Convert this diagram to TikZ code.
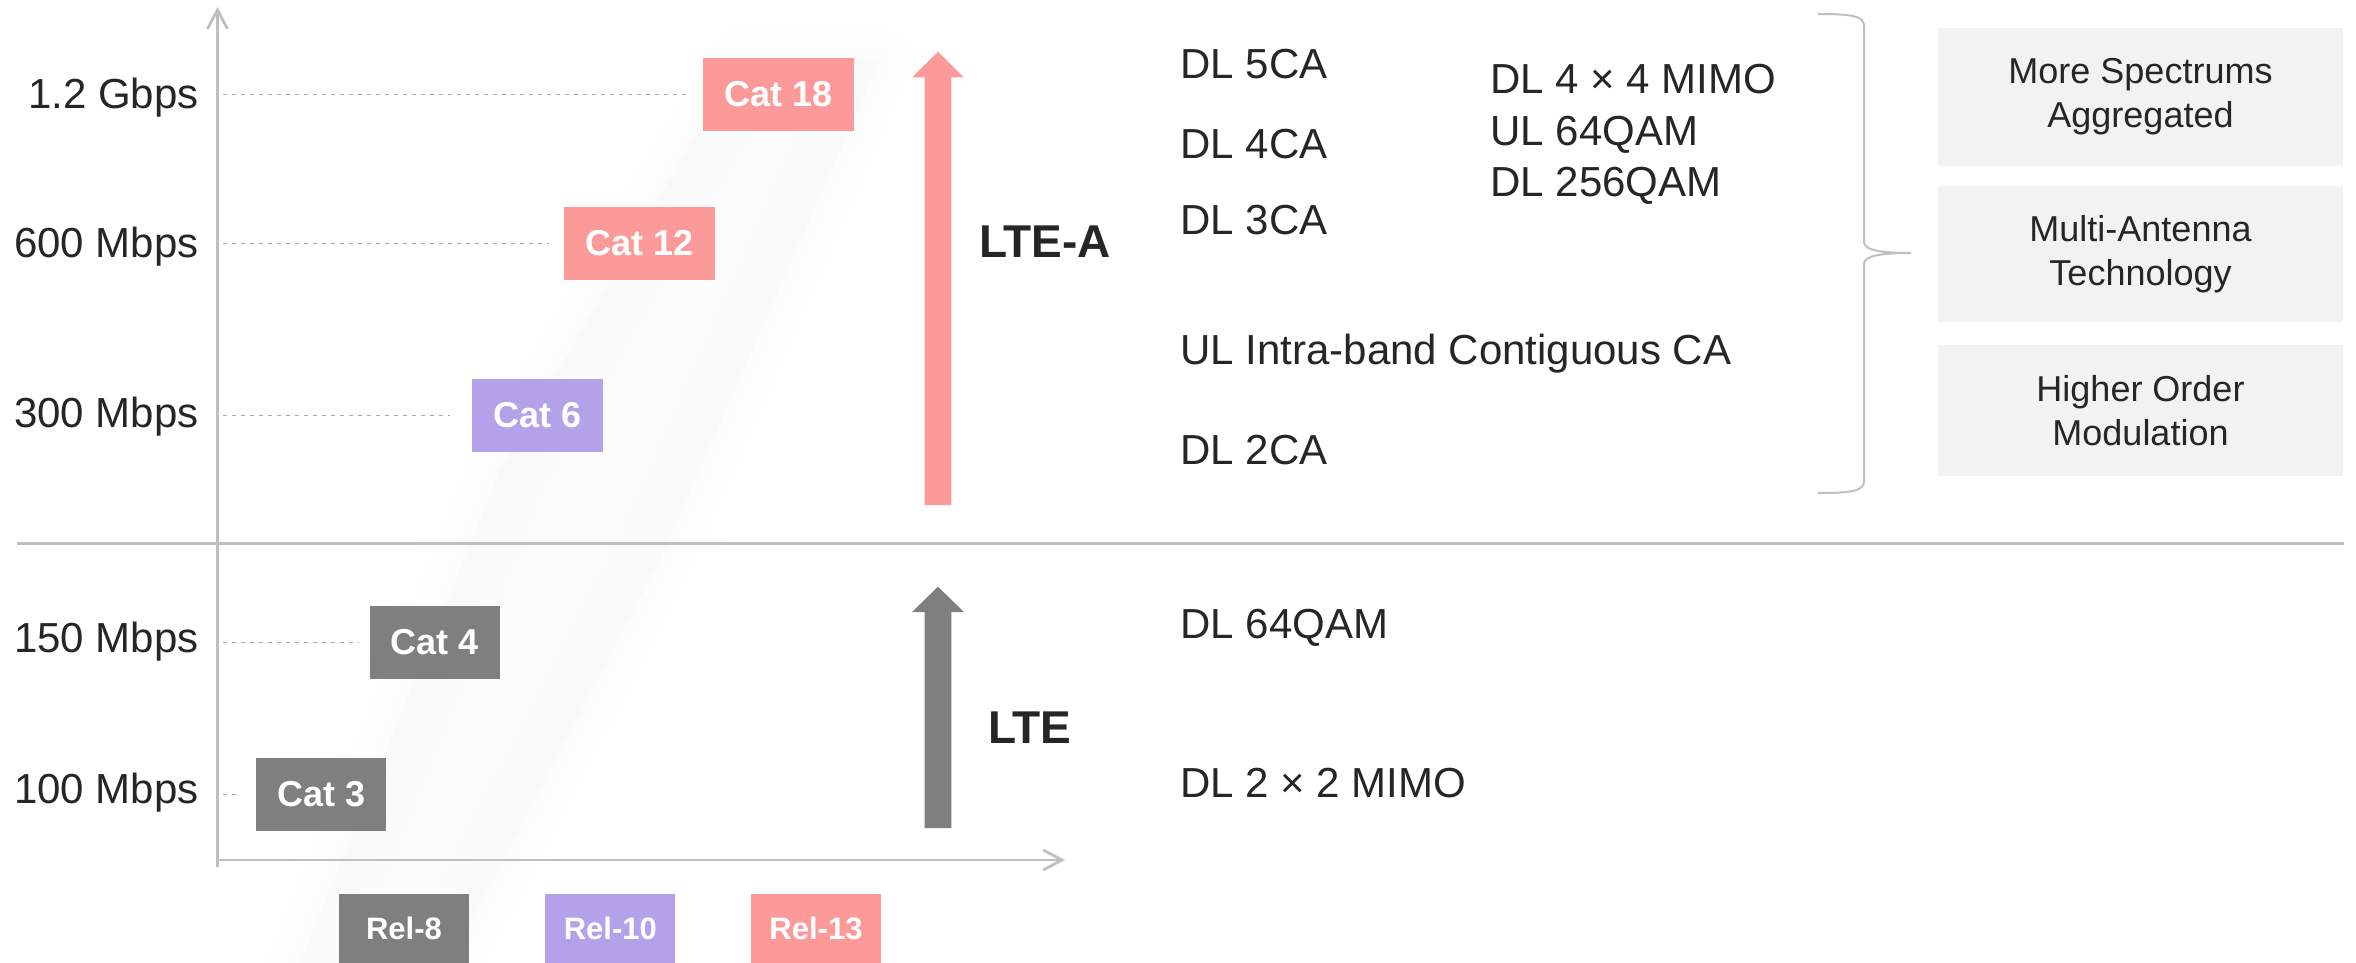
\documentclass[tikz,border=0pt]{standalone}
\usepackage{fontspec}
\setmainfont{Liberation Sans}
\usetikzlibrary{arrows.meta,calc}
\definecolor{pinkc}{RGB}{252,154,154}
\definecolor{purpc}{RGB}{181,160,234}
\definecolor{grayc}{RGB}{127,127,127}
\definecolor{boxc}{RGB}{242,242,242}
\definecolor{axisc}{RGB}{191,191,191}
\definecolor{dashc}{RGB}{170,170,170}
\definecolor{txtc}{RGB}{38,38,38}
\begin{document}
\begin{tikzpicture}[x=0.5pt,y=-0.5pt,
  catbox/.style={minimum height=36.5pt, inner sep=0pt, text=white, font=\bfseries\fontsize{18}{20}\selectfont},
  relbox/.style={minimum width=65pt, minimum height=34.5pt, inner sep=0pt, text=white, font=\bfseries\fontsize{15.5}{18}\selectfont},
  ratelbl/.style={anchor=base east, inner sep=0pt, text=txtc, font=\fontsize{21}{25}\selectfont},
  feat/.style={anchor=base west, inner sep=0pt, text=txtc, font=\fontsize{21}{25}\selectfont},
  gen/.style={anchor=base west, inner sep=0pt, text=txtc, font=\bfseries\fontsize{23}{27}\selectfont},
  graybox/.style={fill=boxc, minimum width=202.5pt, inner sep=0pt, align=center, text=txtc, font=\fontsize{18}{22}\selectfont},
  axisline/.style={draw=axisc, line width=1.35pt},
  dashline/.style={draw=dashc, line width=0.65pt, dash pattern=on 2pt off 2.5pt},
  bracestyle/.style={draw=axisc, line width=1pt}
]
\useasboundingbox (0,0) rectangle (2356,963);
\fill[white] (0,0) rectangle (2356,963);

% faint diagonal shadow
\begin{scope}
\clip (0,0) rectangle (2356,963);
\foreach \w in {50,30,10}
  \filldraw[black, opacity=0.004, line width=\w pt, line join=round]
    (300,963) -- (450,963) -- (660,560) -- (880,60) -- (740,60) -- (500,470) -- cycle;
\end{scope}

% separator
\coordinate (sepL) at (17,543.6);
\coordinate (sepR) at (2344,543.6);
\draw[axisline] (sepL) -- (sepR);

% axes
\coordinate (ybot) at (217.5,867);
\coordinate (ytop) at (217.5,7);
\coordinate (xorg) at (217.5,860);
\coordinate (xend) at (1065,860);
\coordinate (dstart) at (223,0);
\draw[axisline, -{Straight Barb[length=9.5pt,width=10pt]}] (ybot) -- (ytop);
\draw[axisline, -{Straight Barb[length=9.5pt,width=10pt]}] (xorg) -- (xend);

% category boxes
\node[catbox, fill=pinkc, minimum width=75.5pt] (cat18) at (778.5,94.5) {Cat 18};
\node[catbox, fill=pinkc, minimum width=75.5pt] (cat12) at (639.7,243.3) {Cat 12};
\node[catbox, fill=purpc, minimum width=65.3pt] (cat6) at (537.3,415.5) {Cat 6};
\node[catbox, fill=grayc, minimum width=65pt] (cat4) at (435,642.3) {Cat 4};
\node[catbox, fill=grayc, minimum width=65pt] (cat3) at (321.3,794.3) {Cat 3};

% rate labels
\node[ratelbl] (r12) at (199,109) {1.2 Gbps};
\node[ratelbl] (r600) at (199,257) {600 Mbps};
\node[ratelbl] (r300) at (199,427) {300 Mbps};
\node[ratelbl] (r150) at (199,652) {150 Mbps};
\node[ratelbl] (r100) at (199,803) {100 Mbps};

% dashed guides
\draw[dashline] (cat18.west -| dstart) -- ([xshift=-8pt]cat18.west);
\draw[dashline] (cat12.west -| dstart) -- ([xshift=-7.5pt]cat12.west);
\draw[dashline] (cat6.west -| dstart) -- ([xshift=-11pt]cat6.west);
\draw[dashline] (cat4.west -| dstart) -- ([xshift=-5.5pt]cat4.west);
\draw[dashline] (cat3.west -| dstart) -- ([xshift=-8.5pt]cat3.west);

% release boxes
\node[relbox, fill=grayc] (rel8) at (404,928.5) {Rel-8};
\node[relbox, fill=purpc] (rel10) at (610.3,928.5) {Rel-10};
\node[relbox, fill=pinkc] (rel13) at (816,928.5) {Rel-13};

% big arrows
\fill[pinkc] (924.6,505) -- (924.6,77.5) -- (912,77.5) -- (938,51.8) -- (964,77.5) -- (951.3,77.5) -- (951.3,505) -- cycle;
\fill[grayc] (924.6,828) -- (924.6,612) -- (912,612) -- (938,586.7) -- (964,612) -- (951.3,612) -- (951.3,828) -- cycle;
\node[gen] (ltea) at (978.6,257) {LTE-A};
\node[gen] (lte) at (987.7,743) {LTE};

% features
\node[feat] (f5ca) at (1180,79) {DL 5CA};
\node[feat] (f4ca) at (1180,158) {DL 4CA};
\node[feat] (f3ca) at (1180,234) {DL 3CA};
\node[feat] (ful) at (1180,364) {UL Intra-band Contiguous CA};
\node[feat] (f2ca) at (1180,464) {DL 2CA};
\node[feat] (fmimo4) at (1490,94) {DL 4 × 4 MIMO};
\node[feat] (ful64) at (1490,146) {UL 64QAM};
\node[feat] (fdl256) at (1490,196) {DL 256QAM};
\node[feat] (fdl64) at (1180,638) {DL 64QAM};
\node[feat] (fmimo2) at (1180,797) {DL 2 × 2 MIMO};

% brace
\coordinate (btop) at (1818,14);
\coordinate (btip) at (1911,253);
\coordinate (bbot) at (1818,493);
\draw[bracestyle] (btop) .. controls (1852,14) and (1864,16) .. (1864,26) -- (1864,242)
  .. controls (1864,250) and (1880,253) .. (btip)
  .. controls (1880,253) and (1864,256) .. (1864,264) -- (1864,481)
  .. controls (1864,491) and (1852,493) .. (bbot);

% gray boxes
\node[graybox, minimum height=69pt] (g1) at (2140.5,97) {More Spectrums\\Aggregated};
\node[graybox, minimum height=68pt] (g2) at (2140.5,254) {Multi-Antenna\\Technology};
\node[graybox, minimum height=65.5pt] (g3) at (2140.5,410.5) {Higher Order\\Modulation};
\end{tikzpicture}
\end{document}
